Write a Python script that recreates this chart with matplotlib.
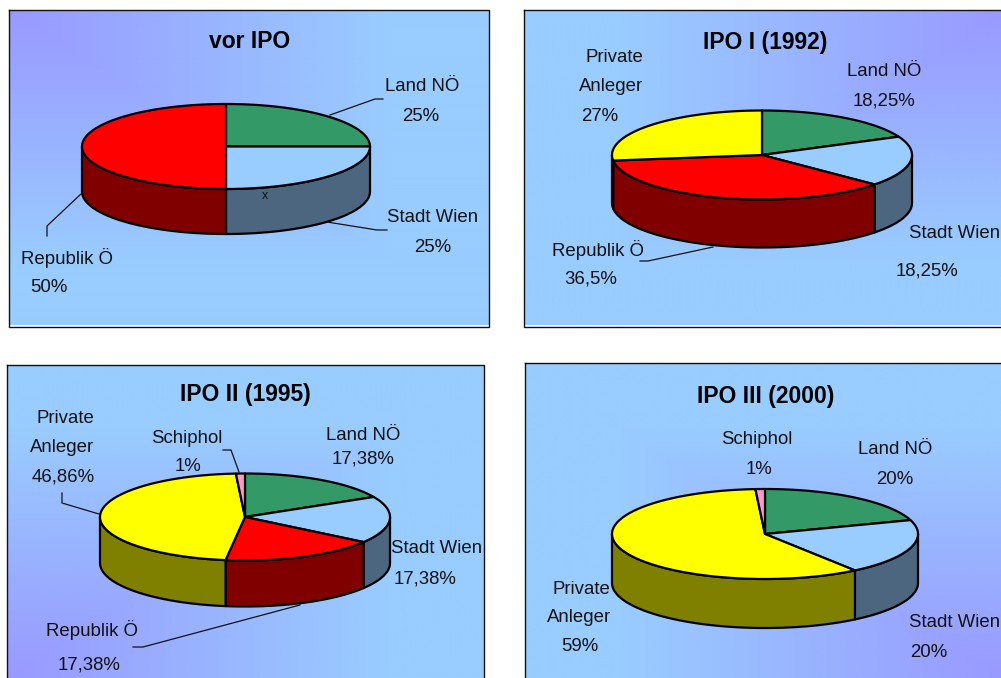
import numpy as np
import matplotlib
matplotlib.use('Agg')
import matplotlib.pyplot as plt
from matplotlib.colors import LinearSegmentedColormap

plt.rcParams['font.family'] = ['Liberation Sans', 'DejaVu Sans']

# shareholders per IPO, clockwise from 12 o'clock (percent)
titles = ['vor IPO', 'IPO I (1992)', 'IPO II (1995)', 'IPO III (2000)']
owners_a = ['Land', 'Wien', 'Rep']
owners_b = ['Land', 'Wien', 'Rep', 'Priv']
owners_c = ['Land', 'Wien', 'Rep', 'Priv', 'Schi']
owners_d = ['Land', 'Wien', 'Priv', 'Schi']
values_a = [25, 25, 50]
values_b = [18.25, 18.25, 36.5, 27]
values_c = [17.38, 17.38, 17.38, 46.86, 1]
values_d = [20, 20, 59, 1]

top_colors = {'Land': '#339966', 'Wien': '#99CCFF', 'Rep': '#FF0000', 'Priv': '#FFFF00', 'Schi': '#FF99CC'}
side_colors = {'Land': '#1A4D33', 'Wien': '#4D6680', 'Rep': '#800000', 'Priv': '#808000', 'Schi': '#804D66'}

# frame box, gradient corner, pie centre, radii, depth (pixels)
frames = [(9, 10, 489, 327), (524, 10, 1006, 327), (7, 365, 484, 682), (525, 363, 1006, 682)]
corners = [(0, 0), (1, 0), (0, 1), (1, 1)]
pies = [(226, 146.5, 144, 42.5, 45), (762, 155, 150, 44.5, 48),
        (245, 517, 145, 43.5, 46), (765, 534, 153, 45, 49)]
title_pos = [(250, 42), (765, 42), (245, 394), (766, 396)]

# text lines with their pixel centres
texts_a = [('Land NÖ', 422, 85), ('25%', 421, 115), ('Stadt Wien', 433, 216), ('25%', 433, 246),
           ('Republik Ö', 67, 257), ('50%', 49, 286)]
texts_b = [('Private', 614, 56), ('Anleger', 611, 85), ('27%', 600, 115), ('Land NÖ', 884, 70),
           ('18,25%', 884, 99), ('Stadt Wien', 955, 232), ('18,25%', 927, 269),
           ('Republik Ö', 598, 248), ('36,5%', 591, 277)]
texts_c = [('Private', 65, 417), ('Anleger', 62, 446), ('46,86%', 63, 476), ('Schiphol', 187, 437),
           ('1%', 188, 465), ('Land NÖ', 363, 434), ('17,38%', 363, 457), ('Stadt Wien', 437, 547),
           ('17,38%', 425, 578), ('Republik Ö', 92, 629), ('17,38%', 89, 663)]
texts_d = [('Schiphol', 757, 438), ('1%', 759, 468), ('Land NÖ', 895, 448), ('20%', 895, 478),
           ('Stadt Wien', 955, 621), ('20%', 929, 651), ('Private', 581, 588), ('Anleger', 579, 616),
           ('59%', 580, 645)]

# leader lines
leaders = [
    [([330, 375, 383], [115, 99, 99]), ([327, 377, 387], [222, 230, 230]), ([82, 47, 47], [193, 226, 236])],
    [([713, 648, 640], [247, 261, 261])],
    [([223, 231, 239], [450, 450, 472]), ([62, 62, 99], [493, 503, 514]), ([300, 143, 133], [605, 647, 647])],
    [],
]

gradient = LinearSegmentedColormap.from_list('bg', ['#9999FF', '#99CCFF'])

fig = plt.figure(figsize=(10.01, 6.78), dpi=100)
ax = fig.add_axes([0, 0, 1, 1])
ax.set_xlim(0, 1001)
ax.set_ylim(678, 0)
ax.axis('off')


def ring(cx, cy, rx, ry, theta):
    return cx + rx * np.sin(theta), cy - ry * np.cos(theta)


def draw_background(frame, corner):
    x0, y0, x1, y1 = frame
    u, v = np.meshgrid(np.linspace(0, 1, 240), np.linspace(0, 1, 160))
    u = abs(u - corner[0])
    v = abs(v - corner[1])
    t = np.clip(np.maximum(u, v) / 0.8, 0, 1)
    ax.imshow(t, extent=(x0, x1, y1 - 2, y0), cmap=gradient, vmin=0, vmax=1,
              aspect='auto', interpolation='bilinear', zorder=1)
    ax.plot([x0, x1, x1, x0, x0], [y0, y0, y1, y1, y0], color='#111111', lw=1.0, zorder=2,
            clip_on=True)


def draw_pie(owners, values, geom):
    cx, cy, rx, ry, depth = geom
    edges = np.radians(np.cumsum([0] + list(values)) * 3.6)
    # side wall: front half of the ring only
    for name, a, b in zip(owners, edges[:-1], edges[1:]):
        lo, hi = max(a, np.pi / 2), min(b, 3 * np.pi / 2)
        if lo >= hi:
            continue
        th = np.linspace(lo, hi, 80)
        x, y = ring(cx, cy, rx, ry, th)
        ax.fill(np.r_[x, x[::-1]], np.r_[y, y[::-1] + depth], facecolor=side_colors[name],
                edgecolor='black', lw=1.6, zorder=3, joinstyle='round')
    for name, a, b in zip(owners, edges[:-1], edges[1:]):
        th = np.linspace(a, b, 120)
        x, y = ring(cx, cy, rx, ry, th)
        ax.fill(np.r_[cx, x], np.r_[cy, y], facecolor=top_colors[name],
                edgecolor='black', lw=1.6, zorder=4, joinstyle='round')


def draw_labels(lines):
    for s, x, y in lines:
        ax.text(x, y + 1.5, s, fontsize=13.4, color='#111111', ha='center', va='center', zorder=6)


all_owners = [owners_a, owners_b, owners_c, owners_d]
all_values = [values_a, values_b, values_c, values_d]
all_texts = [texts_a, texts_b, texts_c, texts_d]

for i in range(4):
    draw_background(frames[i], corners[i])
    draw_pie(all_owners[i], all_values[i], pies[i])
    draw_labels(all_texts[i])
    ax.text(title_pos[i][0], title_pos[i][1], titles[i], fontsize=16.5, fontweight='bold',
            color='black', ha='center', va='center', zorder=6)
    for lx, ly in leaders[i]:
        ax.plot(lx, ly, color='#111111', lw=0.9, zorder=5)

# stray mark in the first chart
ax.text(265, 196, 'x', fontsize=9, color='#111111', ha='center', va='center', zorder=6)

ax.set_xlim(0, 1001)
ax.set_ylim(678, 0)
fig.savefig('out.png', dpi=100, facecolor='white')
